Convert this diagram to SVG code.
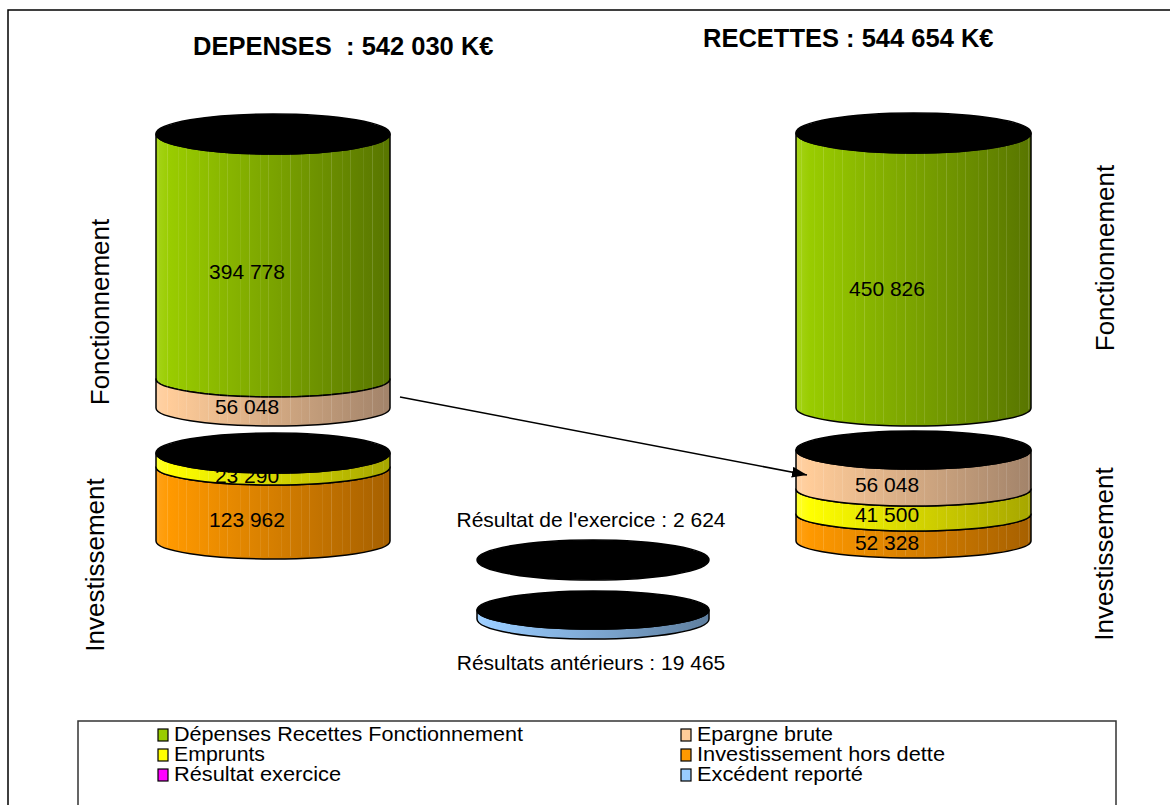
<svg xmlns="http://www.w3.org/2000/svg" width="1170" height="805" viewBox="0 0 1170 805">
<style>
  text { font-family: "Liberation Sans", Arial, sans-serif; fill: #000; }
  .title { font-size: 25.5px; font-weight: bold; }
  .val { font-size: 21px; text-anchor: middle; }
  .axis { font-size: 26px; text-anchor: middle; }
  .leg { font-size: 19.5px; }
  .side { stroke: #000; stroke-width: 1.5; stroke-linejoin: round; }
  .cap { fill: #000; stroke: #000; stroke-width: 1.5; }
  .sw { stroke: #000; stroke-width: 1.2; }
  .str { fill: url(#stripes); stroke: none; }
</style>
<defs>
  <linearGradient id="gGreen" x1="0" y1="0" x2="1" y2="0">
    <stop offset="0" stop-color="#a6d41a"/><stop offset="0.06" stop-color="#99cc00"/><stop offset="1" stop-color="#587500"/>
  </linearGradient>
  <linearGradient id="gBeige" x1="0" y1="0" x2="1" y2="0">
    <stop offset="0" stop-color="#ffd2a6"/><stop offset="0.06" stop-color="#ffcc99"/><stop offset="1" stop-color="#a2836a"/>
  </linearGradient>
  <linearGradient id="gYellow" x1="0" y1="0" x2="1" y2="0">
    <stop offset="0" stop-color="#ffff33"/><stop offset="0.06" stop-color="#ffff00"/><stop offset="1" stop-color="#a6a600"/>
  </linearGradient>
  <linearGradient id="gOrange" x1="0" y1="0" x2="1" y2="0">
    <stop offset="0" stop-color="#ffa31a"/><stop offset="0.06" stop-color="#ff9900"/><stop offset="1" stop-color="#a66000"/>
  </linearGradient>
  <linearGradient id="gBlue" x1="0" y1="0" x2="1" y2="0">
    <stop offset="0" stop-color="#a3d1ff"/><stop offset="0.06" stop-color="#99ccff"/><stop offset="1" stop-color="#5f7f9f"/>
  </linearGradient>
  <pattern id="stripes" x="3" y="0" width="41" height="10" patternUnits="userSpaceOnUse">
    <rect x="0" y="0" width="1" height="10" fill="#fff" fill-opacity="0.15"/>
    <rect x="11" y="0" width="1" height="10" fill="#fff" fill-opacity="0.08"/>
    <rect x="19" y="0" width="1" height="10" fill="#fff" fill-opacity="0.12"/>
    <rect x="32" y="0" width="1" height="10" fill="#fff" fill-opacity="0.07"/>
  </pattern>
  <marker id="arrow" viewBox="0 0 15 11" refX="15" refY="5.5" markerWidth="15" markerHeight="11" markerUnits="userSpaceOnUse" orient="auto">
    <path d="M0,0 L15,5.5 L0,11 Z" fill="#000"/>
  </marker>
</defs>

<rect x="0" y="0" width="1170" height="805" fill="#fff"/>
<!-- outer frame -->
<path d="M8,805 L8,10 L1170,10" fill="none" stroke="#000" stroke-width="1.5"/>

<!-- titles -->
<text class="title" x="193" y="55">DEPENSES&#160; : 542 030 K€</text>
<text class="title" x="703" y="47">RECETTES : 544 654 K€</text>

<!-- side labels -->
<text class="axis" transform="translate(109,312) rotate(-90)">Fonctionnement</text>
<text class="axis" transform="translate(104,565) rotate(-90)">Investissement</text>
<text class="axis" transform="translate(1114,258) rotate(-90)">Fonctionnement</text>
<text class="axis" transform="translate(1113,554) rotate(-90)">Investissement</text>

<!-- Left: Dépenses de fonctionnement -->
<g id="dep-fonct">
  <path class="side" fill="url(#gGreen)" d="M156,134 L156,379 A117,18 0 0 0 390,379 L390,134 A117,20 0 0 1 156,134 Z"/>
  <path class="str" d="M157,134 L157,379 A117,18 0 0 0 389,379 L389,134 Z"/>
  <path class="side" fill="url(#gBeige)" d="M156,379 L156,408 A117,18 0 0 0 390,408 L390,379 A117,18 0 0 1 156,379 Z"/>
  <path class="str" d="M157,379 L157,408 A117,18 0 0 0 389,408 L389,379 A117,18 0 0 1 157,379 Z"/>
  <ellipse class="cap" cx="273" cy="134" rx="117" ry="20"/>
  <text class="val" x="247" y="279">394 778</text>
  <text class="val" x="247" y="414">56 048</text>
</g>

<!-- Left: Dépenses d'investissement -->
<g id="dep-invest">
  <path class="side" fill="url(#gOrange)" d="M156,467 L156,541 A117,18 0 0 0 390,541 L390,467 A117,18 0 0 1 156,467 Z"/>
  <path class="str" d="M157,467 L157,541 A117,18 0 0 0 389,541 L389,467 A117,18 0 0 1 157,467 Z"/>
  <path class="side" fill="url(#gYellow)" d="M156,453 L156,467 A117,18 0 0 0 390,467 L390,453 A117,20 0 0 1 156,453 Z"/>
  <path class="str" d="M157,453 L157,467 A117,18 0 0 0 389,467 L389,453 Z"/>
  <text class="val" x="247" y="483">23 290</text>
  <ellipse class="cap" cx="273" cy="453" rx="117" ry="20"/>
  <text class="val" x="247" y="527">123 962</text>
</g>

<!-- Right: Recettes de fonctionnement -->
<g id="rec-fonct">
  <path class="side" fill="url(#gGreen)" d="M796,133 L796,408 A117.5,18 0 0 0 1031,408 L1031,133 A117.5,20 0 0 1 796,133 Z"/>
  <path class="str" d="M797,133 L797,408 A117.5,18 0 0 0 1030,408 L1030,133 Z"/>
  <ellipse class="cap" cx="913.5" cy="133" rx="117.5" ry="20"/>
  <text class="val" x="887" y="296">450 826</text>
</g>

<!-- Right: Recettes d'investissement -->
<g id="rec-invest">
  <path class="side" fill="url(#gOrange)" d="M796,514 L796,541 A117.5,17 0 0 0 1031,541 L1031,514 A117.5,17 0 0 1 796,514 Z"/>
  <path class="str" d="M797,514 L797,541 A117.5,17 0 0 0 1030,541 L1030,514 A117.5,17 0 0 1 797,514 Z"/>
  <path class="side" fill="url(#gYellow)" d="M796,489 L796,514 A117.5,17 0 0 0 1031,514 L1031,489 A117.5,17 0 0 1 796,489 Z"/>
  <path class="str" d="M797,489 L797,514 A117.5,17 0 0 0 1030,514 L1030,489 A117.5,17 0 0 1 797,489 Z"/>
  <path class="side" fill="url(#gBeige)" d="M796,450 L796,489 A117.5,17 0 0 0 1031,489 L1031,450 A117.5,19 0 0 1 796,450 Z"/>
  <path class="str" d="M797,450 L797,489 A117.5,17 0 0 0 1030,489 L1030,450 Z"/>
  <ellipse class="cap" cx="913.5" cy="450" rx="117.5" ry="19"/>
  <text class="val" x="887" y="492">56 048</text>
  <text class="val" x="887" y="522">41 500</text>
  <text class="val" x="887" y="550">52 328</text>
</g>

<!-- Résultat de l'exercice -->
<g id="resultat-exercice">
  <text class="val" x="591" y="527">Résultat de l'exercice : 2 624</text>
  <ellipse class="cap" cx="593" cy="560" rx="116" ry="20"/>
</g>

<!-- Résultats antérieurs -->
<g id="resultats-anterieurs">
  <path class="side" fill="url(#gBlue)" d="M477,610 L477,619 A116,20 0 0 0 709,619 L709,610 A116,19 0 0 1 477,610 Z"/>
  <ellipse class="cap" cx="593" cy="610" rx="116" ry="19"/>
  <text class="val" x="591" y="670">Résultats antérieurs : 19 465</text>
</g>

<!-- connectors -->
<g id="connectors">
  <line x1="400" y1="397" x2="807" y2="475" stroke="#000" stroke-width="1.5" marker-end="url(#arrow)"/>
</g>

<!-- Legend -->
<g id="legend">
  <rect x="78" y="721" width="1038" height="100" fill="#fff" stroke="#333" stroke-width="1.5"/>
  <rect class="sw" x="158" y="729" width="10" height="12" fill="#99cc00"/>
  <text class="leg" x="174" y="741" textLength="349" lengthAdjust="spacingAndGlyphs">Dépenses Recettes Fonctionnement</text>
  <rect class="sw" x="158" y="749" width="10" height="12" fill="#ffff00"/>
  <text class="leg" x="174" y="761" textLength="91" lengthAdjust="spacingAndGlyphs">Emprunts</text>
  <rect class="sw" x="158" y="769" width="10" height="12" fill="#ff00ff"/>
  <text class="leg" x="174" y="781" textLength="167" lengthAdjust="spacingAndGlyphs">Résultat exercice</text>
  <rect class="sw" x="681" y="729" width="10" height="12" fill="#ffcc99"/>
  <text class="leg" x="697" y="741" textLength="136" lengthAdjust="spacingAndGlyphs">Epargne brute</text>
  <rect class="sw" x="681" y="749" width="10" height="12" fill="#ff9900"/>
  <text class="leg" x="697" y="761" textLength="248" lengthAdjust="spacingAndGlyphs">Investissement hors dette</text>
  <rect class="sw" x="681" y="769" width="10" height="12" fill="#99ccff"/>
  <text class="leg" x="697" y="781" textLength="166" lengthAdjust="spacingAndGlyphs">Excédent reporté</text>
</g>
</svg>
